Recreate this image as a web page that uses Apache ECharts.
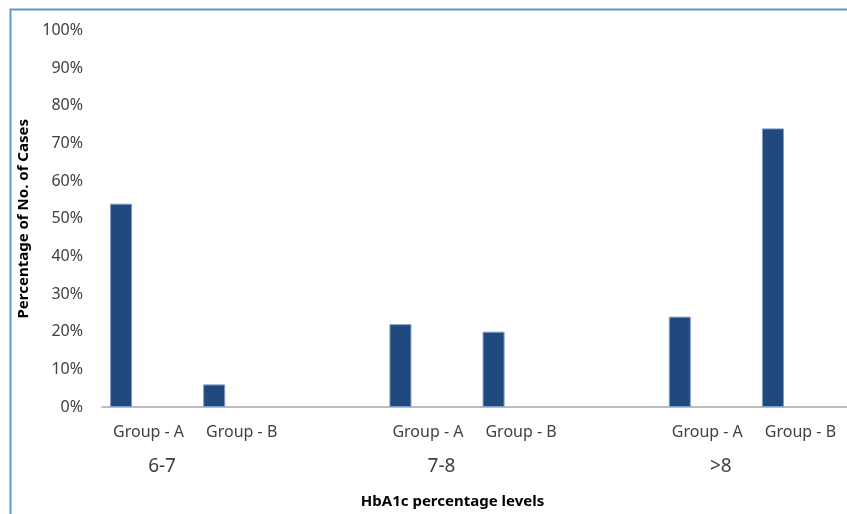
<!DOCTYPE html>
<html>
<head>
<meta charset="utf-8">
<script src="https://cdn.jsdelivr.net/npm/echarts@6/dist/echarts.min.js"></script>
<style>html,body{margin:0;padding:0;background:#fff}#c{width:847px;height:514px}</style>
</head>
<body>
<div id="c"></div>
<script>
const groupLabels = ['Group - A', 'Group - B', '', 'Group - A', 'Group - B', '', 'Group - A', 'Group - B'];
const levelLabels = ['6-7', '', '', '7-8', '', '', '>8', ''];
const values = [54, 6, null, 22, 20, null, 24, 74];
const yTicks = [0, 10, 20, 30, 40, 50, 60, 70, 80, 90, 100];

const chart = echarts.init(document.getElementById('c'));
const font = 'Noto Sans';
chart.setOption({
  animation: false,
  graphic: [{
    type: 'rect', left: 8, top: 7,
    shape: { width: 900, height: 600 },
    style: { fill: 'none', stroke: '#5B9BD5', lineWidth: 2 }
  }],
  grid: { left: 102, top: 30.5, width: 748, bottom: 102.3 },
  xAxis: [{
    type: 'category', data: groupLabels,
    axisLine: { lineStyle: { color: '#A6A6A6', width: 1.5 } },
    axisTick: { show: false },
    axisLabel: { interval: 0, color: '#404040', fontFamily: font, fontSize: 16, margin: 17 }
  }, {
    type: 'category', data: levelLabels, position: 'bottom',
    axisLine: { show: false }, axisTick: { show: false },
    axisLabel: { interval: 0, color: '#404040', fontFamily: font, fontSize: 19, margin: 50, padding: [0, 0, 0, 27] },
    name: 'HbA1c percentage levels', nameLocation: 'middle', nameGap: 87,
    nameTextStyle: { fontFamily: font, fontSize: 15, fontWeight: 'bold', color: '#000', padding: [0, 0, 0, -44] }
  }],
  yAxis: {
    type: 'value', min: yTicks[0], max: yTicks[yTicks.length - 1], interval: 10,
    axisLine: { show: false }, axisTick: { show: false }, splitLine: { show: false },
    axisLabel: { formatter: '{value}%', color: '#404040', fontFamily: font, fontSize: 16, margin: 19 },
    name: 'Percentage of No. of Cases', nameLocation: 'middle', nameGap: 66,
    nameTextStyle: { fontFamily: font, fontSize: 15, fontWeight: 'bold', color: '#000' }
  },
  series: [{
    type: 'bar', data: values, barWidth: 22, barGap: '150%',
    itemStyle: { color: '#1F497D', borderColor: '#7F9CC2', borderWidth: 1 }
  }, {
    type: 'bar', data: values.map(() => null), barWidth: 22
  }]
});
</script>
</body>
</html>
